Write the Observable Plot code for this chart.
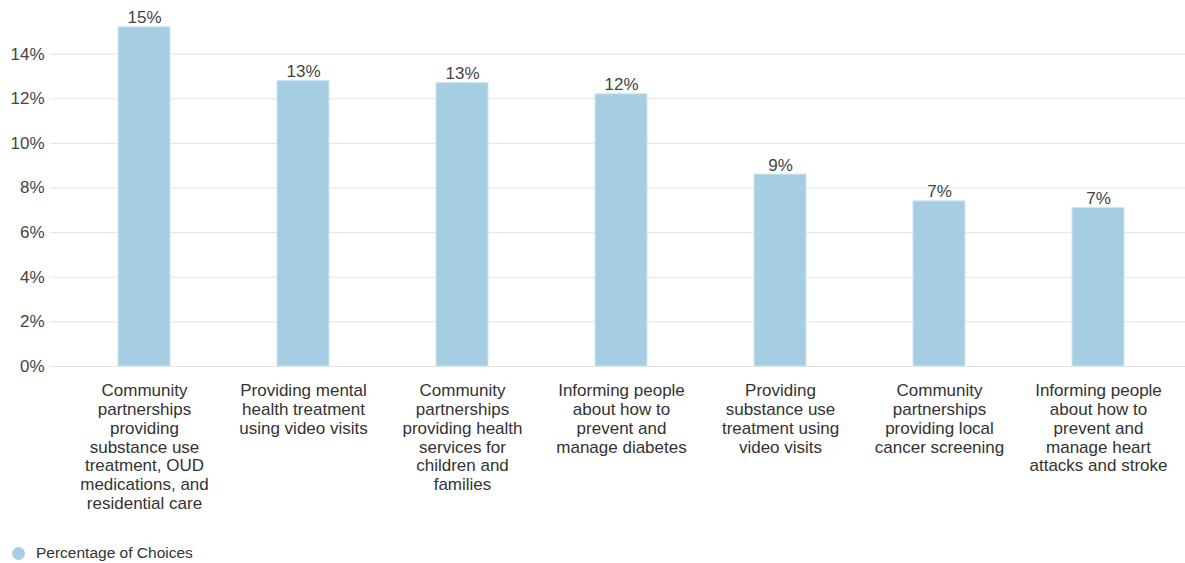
<!DOCTYPE html>
<html>
<head>
<meta charset="utf-8">
<script src="https://cdn.jsdelivr.net/npm/d3@7"></script>
<script src="https://cdn.jsdelivr.net/npm/@observablehq/plot@0.6"></script>
<style>
  html, body { margin: 0; padding: 0; background: #fff; }
  body { font-family: "Liberation Sans", Arial, sans-serif; width: 1185px; }
  #legend { height: 30px; display: flex; align-items: center; padding-left: 12px; font-size: 15.5px; color: #333; }
  #legend .dot { width: 13px; height: 13px; border-radius: 50%; background: #a6cee3; margin-right: 11px; }
</style>
</head>
<body>
<div id="chart"></div>
<div id="legend"><span class="dot"></span><span>Percentage of Choices</span></div>
<script>
const categories = [
  "Community partnerships providing substance use treatment, OUD medications, and residential care",
  "Providing mental health treatment using video visits",
  "Community partnerships providing health services for children and families",
  "Informing people about how to prevent and manage diabetes",
  "Providing substance use treatment using video visits",
  "Community partnerships providing local cancer screening",
  "Informing people about how to prevent and manage heart attacks and stroke"
];
const tickLabels = [
  "Community\npartnerships\nproviding\nsubstance use\ntreatment, OUD\nmedications, and\nresidential care",
  "Providing mental\nhealth treatment\nusing video visits",
  "Community\npartnerships\nproviding health\nservices for\nchildren and\nfamilies",
  "Informing people\nabout how to\nprevent and\nmanage diabetes",
  "Providing\nsubstance use\ntreatment using\nvideo visits",
  "Community\npartnerships\nproviding local\ncancer screening",
  "Informing people\nabout how to\nprevent and\nmanage heart\nattacks and stroke"
];
const percentages = [15.2, 12.8, 12.7, 12.2, 8.6, 7.4, 7.1];
const yTicks = [0, 2, 4, 6, 8, 10, 12, 14];

const data = categories.map((c, i) => ({category: c, value: percentages[i]}));
const labelOf = new Map(categories.map((c, i) => [c, tickLabels[i]]));

const chart = Plot.plot({
  width: 1185,
  height: 538,
  marginLeft: 50,
  marginRight: 0,
  marginTop: 9,
  marginBottom: 172,
  style: {fontFamily: "Liberation Sans, Arial, sans-serif", fontSize: "17px", color: "#333"},
  x: {domain: categories, paddingInner: 0.67, paddingOuter: 0.335, insetLeft: 13, insetRight: 6, label: null},
  y: {domain: [0, 16], label: null},
  marks: [
    Plot.gridY(yTicks, {stroke: "#e3e3e3", strokeOpacity: 1}),
    Plot.barY(data, {x: "category", y: "value", fill: "#a6cee3", stroke: "#cfe4ef", strokeWidth: 1}),
    Plot.text(data, {x: "category", y: "value", text: d => Math.round(d.value) + "%", dy: -4, lineAnchor: "bottom", fontSize: 17, fill: "#444"}),
    Plot.axisY(yTicks, {tickSize: 0, tickPadding: 6, tickFormat: d => d + "%", fontSize: 17, fill: "#444", label: null}),
    Plot.axisX({tickSize: 0, tickPadding: 16, tickFormat: d => labelOf.get(d), lineHeight: 1.11, fontSize: 17, fill: "#333", label: null})
  ]
});
document.getElementById("chart").appendChild(chart);
</script>
</body>
</html>
